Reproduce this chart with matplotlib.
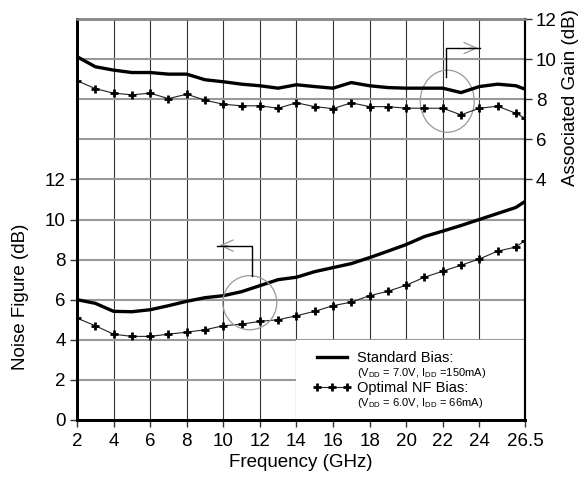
import matplotlib
matplotlib.use("Agg")
import matplotlib.pyplot as plt
from matplotlib.lines import Line2D
from matplotlib.patches import Ellipse, Rectangle

plt.rcParams["font.family"] = ["Liberation Sans", "DejaVu Sans"]
plt.rcParams["mathtext.fontset"] = "custom"
plt.rcParams["mathtext.rm"] = "Liberation Sans"

# data
freq = [2, 3, 4, 5, 6, 7, 8, 9, 10, 11, 12, 13, 14, 15, 16, 17, 18, 19, 20,
        21, 22, 23, 24, 25, 26, 26.5]
nf_std = [6.0, 5.82, 5.42, 5.4, 5.5, 5.7, 5.92, 6.1, 6.2, 6.4, 6.7, 7.0, 7.12,
          7.4, 7.6, 7.8, 8.1, 8.42, 8.75, 9.15, 9.42, 9.7, 10.0, 10.3, 10.6, 10.9]
nf_opt = [5.08, 4.7, 4.28, 4.17, 4.17, 4.28, 4.38, 4.5, 4.7, 4.78, 4.92, 5.0,
          5.2, 5.42, 5.7, 5.88, 6.2, 6.42, 6.72, 7.12, 7.42, 7.72, 8.03, 8.42,
          8.63, 8.95]
gain_std = [10.12, 9.62, 9.45, 9.33, 9.33, 9.25, 9.25, 8.97, 8.87, 8.75, 8.67,
            8.55, 8.72, 8.63, 8.55, 8.83, 8.67, 8.58, 8.55, 8.55, 8.55, 8.33,
            8.63, 8.75, 8.67, 8.5]
gain_opt = [8.92, 8.53, 8.3, 8.22, 8.3, 8.03, 8.25, 7.95, 7.75, 7.67, 7.67,
            7.55, 7.82, 7.63, 7.53, 7.82, 7.63, 7.63, 7.55, 7.55, 7.55, 7.22,
            7.55, 7.65, 7.3, 7.05]
xticks = [2, 4, 6, 8, 10, 12, 14, 16, 18, 20, 22, 24, 26.5]
xticklabels = ["2", "4", "6", "8", "10", "12", "14", "16", "18", "20", "22", "24", "26.5"]
nf_ticks = [0, 2, 4, 6, 8, 10, 12]
gain_ticks = [4, 6, 8, 10, 12]

fig = plt.figure(figsize=(5.87, 4.8), dpi=100)
ax = fig.add_axes([77 / 587, 60 / 480, 448 / 587, 401 / 480])
ax2 = ax.twinx()

ax.set_xlim(2, 26.5)
ax.set_ylim(0, 20)
ax2.set_ylim(-8, 12)

# grid
ax.set_axisbelow(True)
ax.set_xticks(xticks)
ax.set_xticklabels(xticklabels, fontsize=13.5)
ax.set_yticks(nf_ticks)
ax.set_yticklabels([str(t) for t in nf_ticks], fontsize=13.5)
ax.set_yticks([14, 16, 18, 20], minor=True)
ax.tick_params(axis="y", which="minor", length=0)
ax.tick_params(axis="both", which="major", direction="out", length=5, width=1,
               color="#333333", pad=3)
ax.tick_params(axis="x", pad=4)
ax.grid(axis="y", which="both", color="#999999", lw=1.5)
ax.grid(axis="x", color="#333333", lw=0.8)

# white box behind the legend hides the grid there
ax.add_patch(Rectangle((14, 0), 12.5, 4, facecolor="white", edgecolor="none", zorder=1))

ax.plot(freq, nf_std, color="black", lw=2.4, zorder=3)
ax.plot(freq, nf_opt, color="#222222", lw=0.8, marker="+", ms=6, mew=2,
        mec="black", zorder=3)
ax2.plot(freq, gain_std, color="black", lw=2.4, zorder=3)
ax2.plot(freq, gain_opt, color="#222222", lw=0.8, marker="+", ms=6, mew=2,
         mec="black", zorder=3)

ax2.set_yticks(gain_ticks)
ax2.set_yticklabels([str(t) for t in gain_ticks], fontsize=13.5)
ax2.tick_params(axis="y", direction="out", length=5, width=1, color="#333333", pad=3)

ax.set_xlabel("Frequency (GHz)", fontsize=13.5)
ax.xaxis.set_label_coords(0.5, -0.085)
ax.set_ylabel("Noise Figure (dB)", fontsize=13.5)
ax.yaxis.set_label_coords(-0.108, 0.307)
ax2.set_ylabel("Associated Gain (dB)", fontsize=13.5)
ax2.yaxis.set_label_coords(1.083, 0.805)

for a in (ax, ax2):
    a.spines["left"].set_linewidth(2)
    a.spines["left"].set_color("black")
    a.spines["bottom"].set_linewidth(2)
    a.spines["bottom"].set_color("black")
    a.spines["right"].set_linewidth(1.5)
    a.spines["right"].set_color("black")
    a.spines["top"].set_linewidth(1.8)
    a.spines["top"].set_color("#888888")

# callouts
ax.add_patch(Ellipse((11.45, 5.85), 2.95, 2.7, fill=False, edgecolor="#999999", lw=0.9, zorder=4))
ax.plot([11.55, 11.55, 9.64], [7.2, 8.7, 8.7], color="black", lw=1, zorder=4)
ax.annotate("", xy=(9.62, 8.7), xytext=(10.4, 8.7),
            arrowprops=dict(arrowstyle="->,head_length=0.9,head_width=0.4",
                            color="#999999", lw=0.9), zorder=3.5)
ax.add_patch(Ellipse((22.25, 15.9), 2.95, 3.1, fill=False, edgecolor="#999999", lw=0.9, zorder=4))
ax.plot([22.2, 22.2, 24.06], [17.1, 18.55, 18.55], color="black", lw=1, zorder=4)
ax.annotate("", xy=(24.08, 18.55), xytext=(23.3, 18.55),
            arrowprops=dict(arrowstyle="->,head_length=0.9,head_width=0.4",
                            color="#999999", lw=0.9), zorder=3.5)

handles = [Line2D([], [], color="black", lw=2.4),
           Line2D([], [], color="none"),
           Line2D([], [], color="#222222", lw=0.8, marker="+", ms=6, mew=2, mec="black"),
           Line2D([], [], color="none")]
labels = ["Standard Bias:",
          r"(V$_\mathrm{DD}$ = 7.0V, I$_\mathrm{DD}$ =150mA)",
          "Optimal NF Bias:",
          r"(V$_\mathrm{DD}$ = 6.0V, I$_\mathrm{DD}$ = 66mA)"]
leg = ax.legend(handles, labels, loc="upper left", bbox_to_anchor=(0.525, 0.172),
                frameon=False, numpoints=3, handlelength=2.7, handletextpad=0.4,
                labelspacing=0.05, borderpad=0, borderaxespad=0, fontsize=10.5)
for i, t in enumerate(leg.get_texts()):
    if i % 2 == 1:
        t.set_fontsize(8)
leg.set_zorder(5)

plt.savefig("out.png", dpi=100)
plt.close()
